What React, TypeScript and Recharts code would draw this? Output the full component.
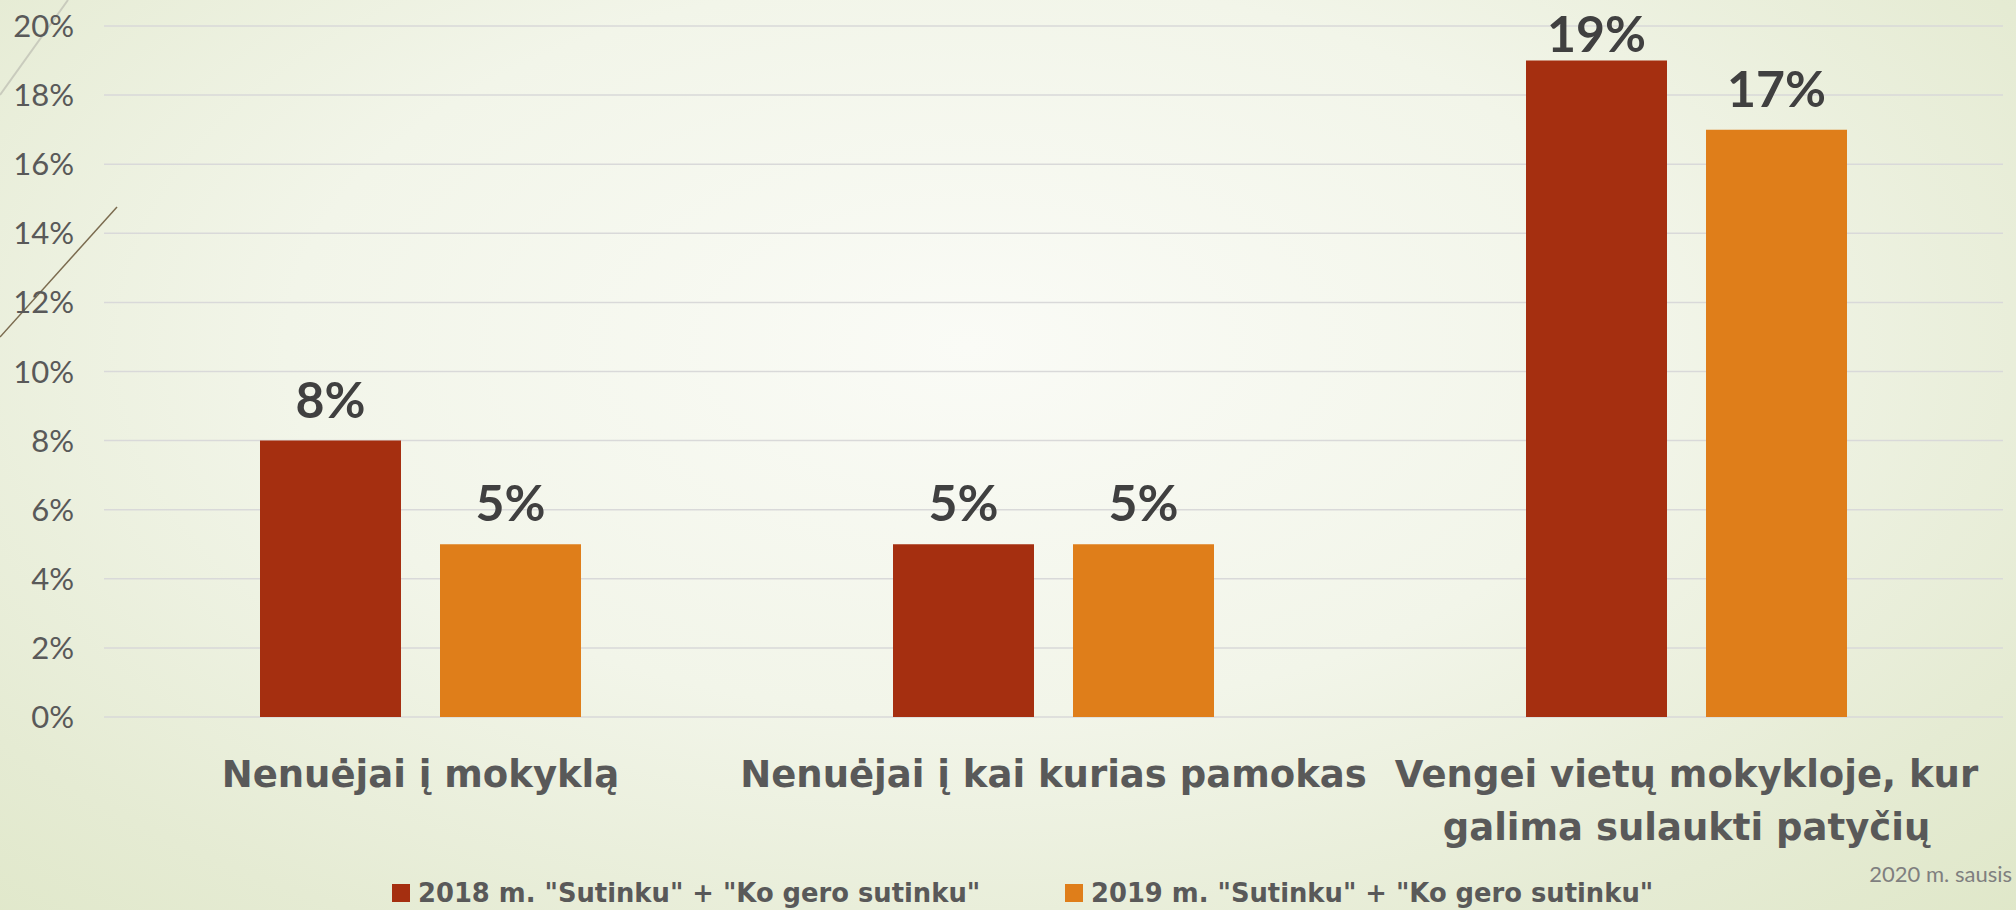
import React from 'react';
import {
  BarChart,
  Bar,
  XAxis,
  YAxis,
  CartesianGrid,
  Legend,
  LabelList,
} from 'recharts';

// values
const categories = [
  'Nenuėjai į mokyklą',
  'Nenuėjai į kai kurias pamokas',
  'Vengei vietų mokykloje, kur\ngalima sulaukti patyčių',
];
const values2018 = [8, 5, 19];
const values2019 = [5, 5, 17];
const seriesNames = ['2018 m. "Sutinku" + "Ko gero sutinku"', '2019 m. "Sutinku" + "Ko gero sutinku"'];
const yTicks = [0, 2, 4, 6, 8, 10, 12, 14, 16, 18, 20];
const footnote = '2020 m. sausis';

const COLOR_2018 = '#A52F10';
const COLOR_2019 = '#DF7E1A';
const FONT = "Lato, 'Open Sans', sans-serif";
const WIDE_FONT = "'DejaVu Sans', Lato, sans-serif";

const data = categories.map((name, i) => ({
  name,
  y2018: values2018[i],
  y2019: values2019[i],
}));

const CategoryTick = (props: any) => {
  const { x, y, payload } = props;
  const lines = String(payload.value).split('\n');
  return (
    <text
      x={x}
      y={y + 62}
      textAnchor="middle"
      fill="#595959"
      fontFamily={WIDE_FONT}
      fontWeight={700}
      fontSize={37}
    >
      {lines.map((line, i) => (
        <tspan key={i} x={x} dy={i === 0 ? 0 : 53}>
          {line}
        </tspan>
      ))}
    </text>
  );
};

// value label above the bar, kept inside the plot top like the original
const ValueLabel = (props: any) => {
  const { x, y, width, value } = props;
  const baseline = Math.max(y - 23, 52);
  return (
    <text
      x={x + width / 2}
      y={baseline}
      textAnchor="middle"
      fill="#404040"
      fontFamily={FONT}
      fontWeight={700}
      fontSize={50}
    >
      {`${value}%`}
    </text>
  );
};

const LegendContent = () => (
  <div
    style={{
      height: 40,
      display: 'flex',
      alignItems: 'center',
      paddingLeft: 392,
      paddingTop: 6,
      boxSizing: 'border-box',
      fontFamily: WIDE_FONT,
    }}
  >
    {seriesNames.map((s, i) => (
      <div key={s} style={{ display: 'flex', alignItems: 'center', width: i === 0 ? 673 : 'auto' }}>
        <span
          style={{
            display: 'inline-block',
            width: 18,
            height: 18,
            background: i === 0 ? COLOR_2018 : COLOR_2019,
            marginRight: 8,
          }}
        />
        <span style={{ fontSize: 25.8, fontWeight: 700, color: '#595959', whiteSpace: 'nowrap' }}>{s}</span>
      </div>
    ))}
  </div>
);

export default function App() {
  return (
    <div
      style={{
        position: 'absolute',
        top: 0,
        left: 0,
        width: 2016,
        height: 910,
        overflow: 'hidden',
        background:
          'radial-gradient(ellipse 75% 90% at 48% 38%, #fafbf6 0%, #f2f5e9 45%, #e5ebd3 80%, #dfe7c8 100%)',
      }}
    >
      <svg width={2016} height={910} style={{ position: 'absolute', top: 0, left: 0 }}>
        <line x1={0} y1={95} x2={68} y2={0} stroke="#c9cbbd" strokeWidth={2} />
        <line x1={0} y1={337} x2={117} y2={207} stroke="#7b6b4f" strokeWidth={1.5} />
      </svg>
      <div style={{ position: 'absolute', top: 0, left: 0 }}>
        <BarChart
          width={2016}
          height={910}
          data={data}
          margin={{ top: 26, right: 13, left: 0, bottom: 0 }}
          barSize={141}
          barGap={39}
        >
          <CartesianGrid vertical={false} stroke="#d9d9d9" strokeWidth={1.5} />
          <XAxis
            dataKey="name"
            axisLine={false}
            tickLine={false}
            height={153}
            interval={0}
            tick={<CategoryTick />}
          />
          <YAxis
            width={104}
            domain={[0, 20]}
            ticks={yTicks}
            interval={0}
            axisLine={false}
            tickLine={false}
            tickMargin={24}
            tickFormatter={(v: number) => `${v}%`}
            tick={{ fill: '#595959', fontSize: 31, fontFamily: FONT }}
          />
          <Legend verticalAlign="bottom" height={40} content={<LegendContent />} />
          <Bar dataKey="y2018" name={seriesNames[0]} fill={COLOR_2018} isAnimationActive={false}>
            <LabelList dataKey="y2018" content={<ValueLabel />} />
          </Bar>
          <Bar dataKey="y2019" name={seriesNames[1]} fill={COLOR_2019} isAnimationActive={false}>
            <LabelList dataKey="y2019" content={<ValueLabel />} />
          </Bar>
        </BarChart>
      </div>
      <div
        style={{
          position: 'absolute',
          right: 4,
          top: 860,
          fontFamily: FONT,
          fontSize: 22,
          color: '#7f7f7f',
        }}
      >
        {footnote}
      </div>
    </div>
  );
}
